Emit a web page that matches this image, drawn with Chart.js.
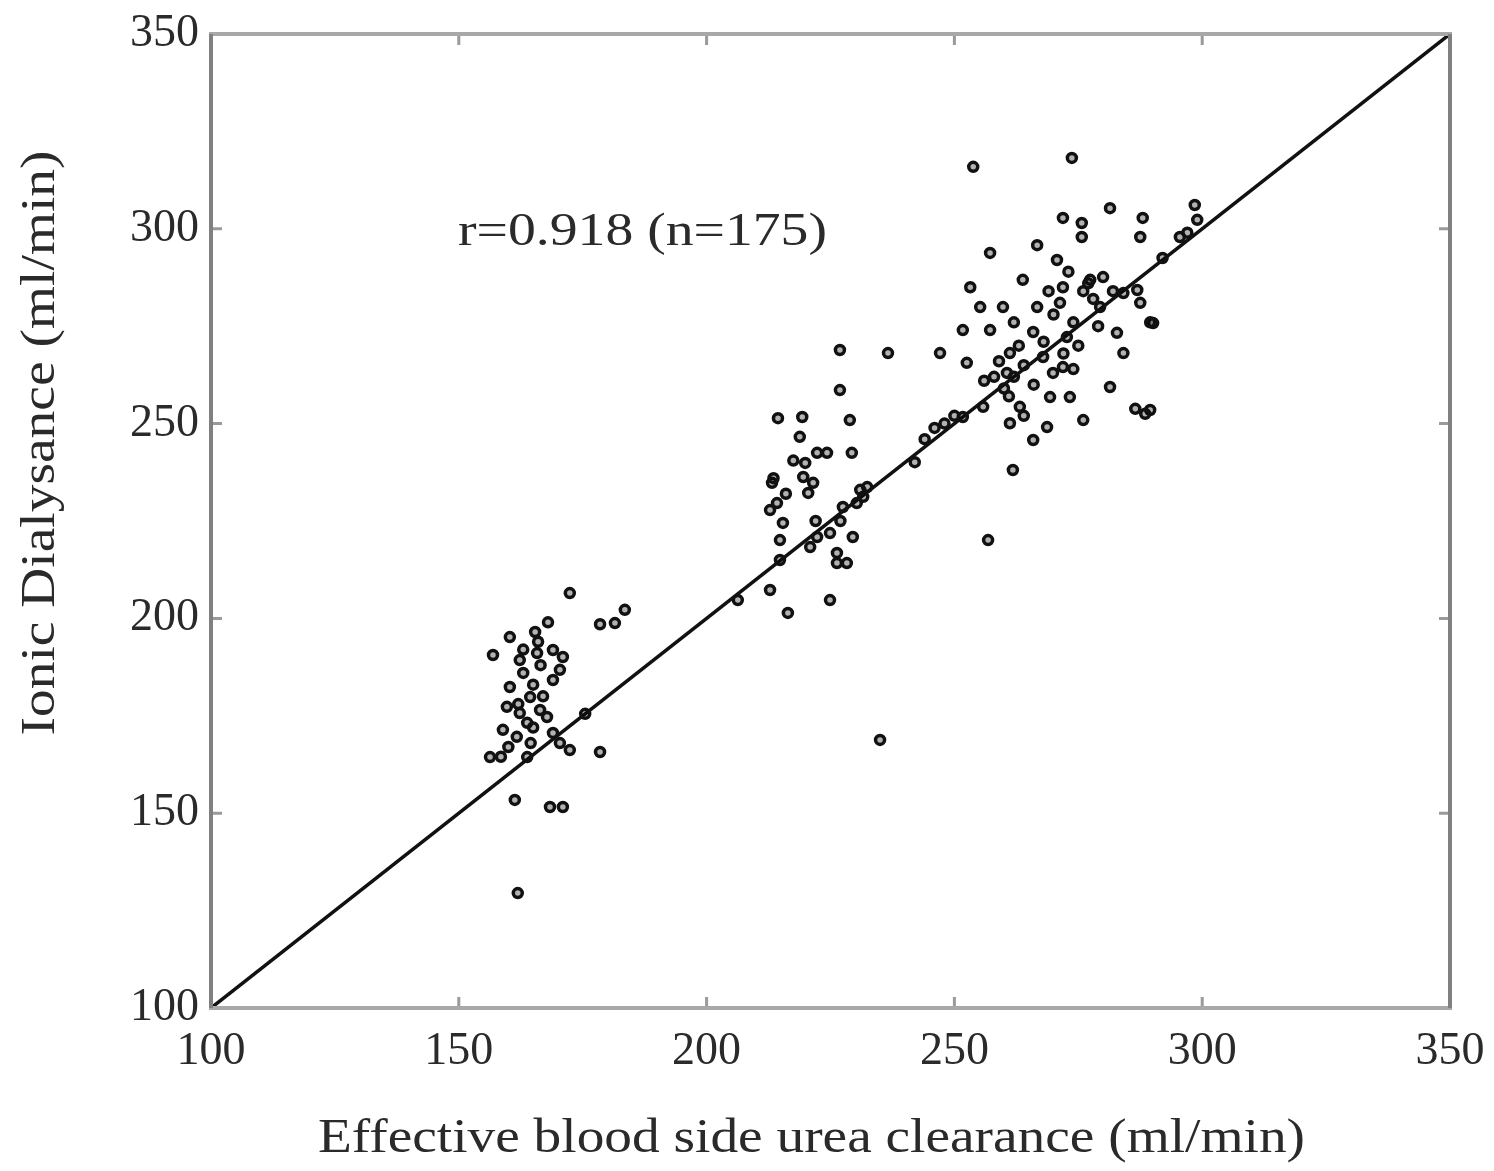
<!DOCTYPE html>
<html>
<head>
<meta charset="utf-8">
<script src="https://cdn.jsdelivr.net/npm/chart.js@4.4.1/dist/chart.umd.min.js"></script>
<style>
  html, body { margin: 0; padding: 0; background: #fff; }
  #wrap { width: 1494px; height: 1171px; }
</style>
</head>
<body>
<div id="wrap"><canvas id="chart"></canvas></div>
<script>
// Effective blood side urea clearance (ml/min) per session
const clearance = [
  172.4, 183.5, 181.5, 178.5, 168, 160.3, 165.4, 156.9, 162.3, 165.8,
  169, 171, 169, 170.4, 160.3, 164.4, 159.7, 162.3, 166.4, 167.8,
  163.8, 158.9, 161.7, 169, 175.5, 178.5, 156.3, 163.8, 170.4, 172.4,
  161.3, 168.4, 171, 161.9, 166, 163, 165, 162, 165, 160,
  158.5, 164.5, 167, 163, 166.5,
  226.9, 236.6, 226.9, 214.4, 219.3, 228.9, 218.8, 222.3, 224.3, 229.3,
  219.9, 219.5, 221.5, 213.2, 220.5, 232.4, 231.6, 214.2, 212.8, 227.5,
  230.3, 215.4, 214.8, 222.3, 224.9, 229.5, 220.9, 226.3, 228.3, 226.3,
  214.8, 212.8, 224.9, 216.4, 206.3, 242, 246, 235, 217.5, 222,
  227, 216, 213.5,
  253.8, 273.7, 281.4, 298.5, 271.9, 275.7, 288, 275.7, 299, 295.5,
  287.5, 257.2, 266.7, 270.7, 292, 253.2, 263.8, 277.4, 280, 271.9,
  286.9, 284.1, 255.2, 259.8, 266.7, 271.3, 279.4, 287.5, 290.1, 251.7,
  257.2, 265.9, 272.7, 282.8, 247.1, 252.5, 261.2, 267.9, 284.1, 289.5,
  260.6, 269.9, 271.9, 281.4, 269.3, 273.3, 263.2, 255.8, 251.7, 261.2,
  268.7, 276, 265.9, 261.8, 256.8, 288.5, 286.5, 259, 262, 260,
  263, 258, 264, 261, 266, 274, 276, 278, 270, 268,
  275, 262, 272, 277, 269, 273, 256, 279, 274, 264,
  282, 248, 297, 289.5, 244, 250, 231
];

// Ionic dialysance (ml/min), same order
const dialysance = [
  206.5, 202.2, 198.8, 198.5, 199, 195.2, 196.5, 190.6, 189.3, 191.1,
  191.9, 190.1, 184.2, 186.8, 182.4, 179.8, 177.3, 175.7, 176.5, 174.7,
  173.2, 171.4, 169.6, 170.6, 175.5, 165.7, 164.4, 164.4, 168, 166.2,
  153.4, 151.6, 151.6, 129.5, 194, 186, 183, 178, 172, 167,
  164.5, 168, 180, 192, 188,
  268.9, 268.1, 258.6, 251.4, 251.7, 250.9, 246.6, 242.5, 242.5, 242.5,
  239.9, 236.3, 234.8, 234.8, 232.2, 233.7, 231.2, 229.6, 227.8, 228.6,
  229.6, 224.5, 220.1, 220.9, 221.9, 220.9, 218.3, 216.8, 214.2, 214.2,
  215, 207.3, 204.7, 201.4, 204.7, 240.1, 248.9, 168.8, 240.5, 225,
  225, 232, 236,
  315.9, 318.2, 305.3, 306.1, 302.8, 301.5, 302.8, 297.9, 302.3, 297.9,
  297.9, 293.8, 295.8, 292, 292.5, 285, 286.9, 286.9, 287.6, 285,
  284.3, 283.5, 279.9, 279.9, 279.9, 281, 279.9, 281, 275.8, 274,
  274, 273.5, 272.2, 273.3, 268.1, 265.6, 268.1, 267.1, 268.1, 253.5,
  263, 263, 264.5, 259.4, 256.8, 256.8, 254.3, 254.3, 251.7, 250.1,
  249.1, 250.9, 245.8, 238.1, 220.1, 252.5, 253.8, 266, 262, 259,
  270, 262, 265, 257, 260, 276, 284, 282, 278, 271,
  270, 276, 268, 286, 284, 289, 261, 275, 264, 252,
  284, 250, 299, 276, 246, 252, 233
];

const axisMin = 100;
const axisMax = 350;
const tickStep = 50;
const identityLine = [100, 350];

const annotation = 'r=0.918 (n=175)';
const xTitle = 'Effective blood side urea clearance (ml/min)';
const yTitle = 'Ionic Dialysance (ml/min)';

const serif = '"Liberation Serif", "DejaVu Serif", serif';
const ink = '#2a2a2a';

const points = clearance.map((x, i) => ({ x, y: dialysance[i] }));

// draw text squeezed/stretched to a given width
const fitText = (ctx, text, cx, cy, width, size, angle) => {
  ctx.save();
  ctx.font = `${size}px ${serif}`;
  ctx.fillStyle = ink;
  ctx.textAlign = 'center';
  ctx.textBaseline = 'middle';
  ctx.translate(cx, cy);
  if (angle) ctx.rotate(angle);
  ctx.scale(width / ctx.measureText(text).width, 1);
  ctx.fillText(text, 0, 0);
  ctx.restore();
};

const frameAndText = {
  id: 'frameAndText',
  afterDraw(chart) {
    const { ctx, chartArea: a, scales } = chart;
    ctx.save();
    // inner tick marks on all four sides
    ctx.strokeStyle = '#9a9a9a';
    ctx.lineWidth = 3;
    for (let v = axisMin + tickStep; v < axisMax; v += tickStep) {
      const px = scales.x.getPixelForValue(v);
      const py = scales.y.getPixelForValue(v);
      ctx.beginPath();
      ctx.moveTo(px, a.bottom); ctx.lineTo(px, a.bottom - 11);
      ctx.moveTo(px, a.top); ctx.lineTo(px, a.top + 11);
      ctx.moveTo(a.left, py); ctx.lineTo(a.left + 11, py);
      ctx.moveTo(a.right, py); ctx.lineTo(a.right - 11, py);
      ctx.stroke();
    }
    // box
    ctx.lineWidth = 4;
    ctx.strokeStyle = '#a8a8a8';
    ctx.strokeRect(a.left, a.top, a.right - a.left, a.bottom - a.top);
    ctx.strokeStyle = '#808080';
    ctx.beginPath();
    ctx.moveTo(a.left, a.top); ctx.lineTo(a.left, a.bottom);
    ctx.moveTo(a.right, a.top); ctx.lineTo(a.right, a.bottom);
    ctx.stroke();
    ctx.restore();

    fitText(ctx, annotation, 458 + 369 / 2, 233, 369, 46);
    fitText(ctx, xTitle, (318 + 1305) / 2, 1139, 987, 48);
    fitText(ctx, yTitle, 41, 443, 585, 48, -Math.PI / 2);
  },
};

const tickFont = { family: serif, size: 46 };

new Chart(document.getElementById('chart'), {
  data: {
    datasets: [
      {
        type: 'scatter',
        data: points,
        pointStyle: 'circle',
        pointRadius: 4.5,
        pointBorderWidth: 3.5,
        pointBorderColor: '#111',
        pointBackgroundColor: 'rgba(0,0,0,0.3)',
      },
      {
        type: 'line',
        data: identityLine.map((v) => ({ x: v, y: v })),
        borderColor: '#111',
        borderWidth: 3.5,
        pointRadius: 0,
      },
    ],
  },
  plugins: [frameAndText],
  options: {
    responsive: true,
    maintainAspectRatio: false,
    animation: false,
    layout: { padding: { top: 34, right: 44, left: 0, bottom: 0 } },
    plugins: { legend: { display: false }, tooltip: { enabled: false } },
    scales: {
      x: {
        type: 'linear',
        min: axisMin,
        max: axisMax,
        grid: { display: false, drawTicks: false },
        border: { display: false },
        ticks: { stepSize: tickStep, font: tickFont, color: ink, padding: 16, maxRotation: 0 },
        afterFit: (scale) => {
          scale.height = 163;
          scale.paddingLeft = 0;
          scale.paddingRight = 0;
        },
      },
      y: {
        type: 'linear',
        min: axisMin,
        max: axisMax,
        grid: { display: false, drawTicks: false },
        border: { display: false },
        ticks: { stepSize: tickStep, font: tickFont, color: ink, padding: 12 },
        afterFit: (scale) => {
          scale.width = 211;
          scale.paddingTop = 0;
          scale.paddingBottom = 0;
        },
      },
    },
  },
});
</script>
</body>
</html>
